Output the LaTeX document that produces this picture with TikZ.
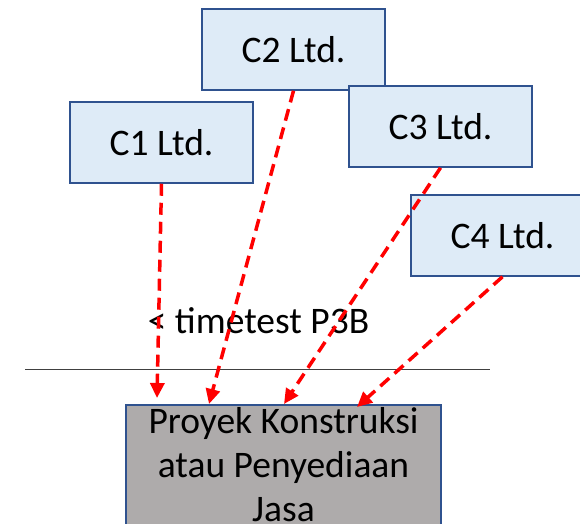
\documentclass[tikz,border=0pt]{standalone}
\usepackage{fontspec}
\setmainfont{Carlito}
\usetikzlibrary{arrows.meta}
\definecolor{boxfill}{HTML}{DEEBF7}
\definecolor{boxedge}{HTML}{2F528F}
\definecolor{projfill}{HTML}{AEABAB}
\definecolor{rulegray}{HTML}{404040}
\begin{document}
\begin{tikzpicture}[x=1pt,y=-1pt,
  company/.style={draw=boxedge,fill=boxfill,line width=1.5pt,minimum width=183pt,minimum height=81pt,inner sep=0pt,font=\fontsize{37.5}{44}\selectfont},
  flow/.style={red,line width=3.5pt,dash pattern=on 12pt off 7pt,-{Triangle[length=15pt,width=14pt]}},
  txt/.style={font=\fontsize{37.5}{44}\selectfont,inner sep=0pt}]
\useasboundingbox (0,0) rectangle (580,523);
% project box (runs past the lower edge)
\node[draw=boxedge,fill=projfill,line width=1.5pt,minimum width=315pt,minimum height=150pt,anchor=north,inner sep=0pt] (proj) at (283.5,404) {};
\node[txt,align=center,anchor=north] (projtxt) at (283.5,407) {Proyek Konstruksi\\atau Penyediaan\\Jasa};
% contractors
\node[company] (c1) at (161.5,142.5) {C1 Ltd.};
\node[company] (c2) at (293.5,49.5) {C2 Ltd.};
\node[company] (c3) at (440.5,126.5) {C3 Ltd.};
\node[company] (c4) at (502.5,235.5) {C4 Ltd.};
% threshold line and label
\coordinate (hl) at (25,369);
\coordinate (hr) at (490,369);
\draw[rulegray,line width=1pt] (hl) -- (hr);
\node[txt,anchor=base] (limit) at (258.5,333) {< timetest P3B};
% arrow tips on the project box
\coordinate (t1) at (157,398);
\coordinate (t2) at (209,404);
\coordinate (t3) at (284,404);
\coordinate (t4) at (357,407);
\draw[flow] (c1.south) -- (t1);
\draw[flow] (c2.south) -- (t2);
\draw[flow] (c3.south) -- (t3);
\draw[flow] (c4.south) -- (t4);
\end{tikzpicture}
\end{document}
